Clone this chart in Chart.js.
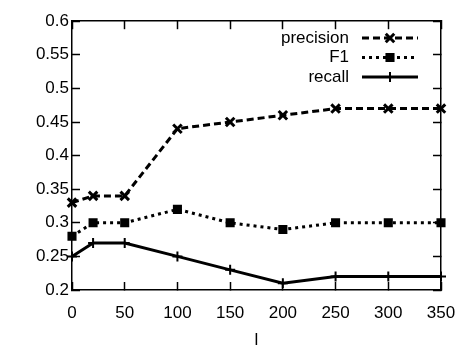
<!DOCTYPE html>
<html>
<head>
<meta charset="utf-8">
<script src="https://cdn.jsdelivr.net/npm/chart.js@4"></script>
<style>
  html, body { margin: 0; padding: 0; background: #fff; }
  #wrap { width: 461px; height: 346px; }
</style>
</head>
<body>
<div id="wrap"><canvas id="chart"></canvas></div>
<script>
const xValues = [0, 20, 50, 100, 150, 200, 250, 300, 350];
const precision = [0.33, 0.34, 0.34, 0.44, 0.45, 0.46, 0.47, 0.47, 0.47];
const f1 = [0.28, 0.30, 0.30, 0.32, 0.30, 0.29, 0.30, 0.30, 0.30];
const recall = [0.25, 0.27, 0.27, 0.25, 0.23, 0.21, 0.22, 0.22, 0.22];
const seriesNames = ['precision', 'F1', 'recall'];

const FONT = 'Liberation Sans, Arial, sans-serif';

function toPoints(ys) {
    return xValues.map((x, i) => ({ x: x, y: ys[i] }));
}

const styles = [
    { dash: [7, 4], point: 'crossRot', radius: 6, width: 3 },
    { dash: [3, 4], point: 'rect', radius: 5, width: 2 },
    { dash: [], point: 'cross', radius: 5, width: 2 }
];

// legend drawn inside the plot area, top right, like gnuplot
const legendPlugin = {
    id: 'innerLegend',
    afterDraw(chart) {
        const c = chart.ctx;
        c.save();
        c.font = '17px ' + FONT;
        c.fillStyle = '#000';
        c.strokeStyle = '#000';
        c.textAlign = 'right';
        c.textBaseline = 'middle';
        seriesNames.forEach((name, i) => {
            const y = 38 + i * 19.5;
            c.fillText(name, 349, y);
            c.lineWidth = 3;
            c.setLineDash(styles[i].dash);
            c.beginPath();
            c.moveTo(362, y); c.lineTo(418, y);
            c.stroke();
            c.setLineDash([]);
            c.lineWidth = styles[i].width;
            Chart.helpers.drawPoint(c, { pointStyle: styles[i].point, radius: styles[i].radius,
                                         rotation: 0, borderWidth: styles[i].width }, 390, y);
        });
        c.restore();
    }
};

const datasets = [precision, f1, recall].map((ys, i) => ({
    label: seriesNames[i],
    data: toPoints(ys),
    borderColor: '#000',
    backgroundColor: '#000',
    borderWidth: 3,
    borderDash: styles[i].dash,
    pointStyle: styles[i].point,
    pointRadius: styles[i].radius,
    pointBorderWidth: styles[i].width,
    pointBackgroundColor: '#000',
    pointBorderColor: '#000',
    tension: 0,
    clip: false
}));

// inward ticks: grid lines not drawn on chart area, negative tick length
const tickGrid = { drawOnChartArea: false, drawTicks: true, tickLength: -8, tickWidth: 1.5, color: '#000' };
const frameBorder = { display: true, color: '#000', width: 1.5 };

new Chart(document.getElementById('chart'), {
    type: 'line',
    data: { datasets: datasets },
    plugins: [legendPlugin],
    options: {
        responsive: true,
        maintainAspectRatio: false,
        animation: false,
        layout: { padding: { top: 11, right: 20, left: 0, bottom: 0 } },
        plugins: { legend: { display: false }, tooltip: { enabled: false } },
        scales: {
            x: {
                type: 'linear',
                min: 0, max: 350,
                grid: tickGrid,
                border: frameBorder,
                ticks: { stepSize: 50, color: '#000', padding: 21, maxRotation: 0,
                         font: { family: FONT, size: 17 } },
                title: { display: true, text: 'l', color: '#000', padding: { top: 6, bottom: -5 },
                         font: { family: FONT, size: 17 } },
                afterFit(s) { s.height = 56; s.paddingLeft = 0; s.paddingRight = 0; }
            },
            x2: {
                type: 'linear', position: 'top',
                min: 0, max: 350,
                grid: tickGrid,
                border: frameBorder,
                ticks: { stepSize: 50, display: false },
                afterFit(s) { s.height = 0; s.paddingLeft = 0; s.paddingRight = 0; }
            },
            y: {
                min: 0.2, max: 0.6,
                grid: tickGrid,
                border: frameBorder,
                ticks: { stepSize: 0.05, color: '#000', padding: 11,
                         font: { family: FONT, size: 17 },
                         callback: v => Math.round(v * 100) / 100 },
                afterFit(s) { s.width = 72; }
            },
            y2: {
                position: 'right',
                min: 0.2, max: 0.6,
                grid: tickGrid,
                border: frameBorder,
                ticks: { stepSize: 0.05, display: false },
                afterFit(s) { s.width = 0; }
            }
        }
    }
});
</script>
</body>
</html>
